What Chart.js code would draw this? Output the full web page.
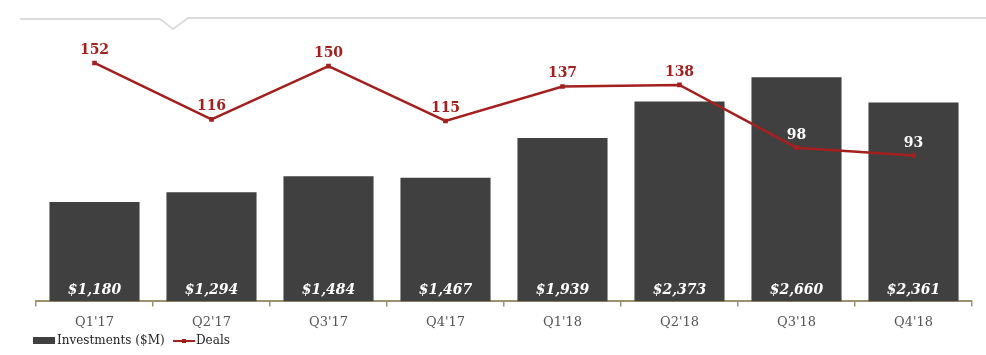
<!DOCTYPE html>
<html>
<head>
<meta charset="utf-8">
<script src="https://cdn.jsdelivr.net/npm/chart.js@4.4.1/dist/chart.umd.min.js"></script>
<style>
  html, body { margin:0; padding:0; background:#fff; }
  #wrap { width:986px; height:355px; position:relative; }
</style>
</head>
<body>
<div id="wrap"><canvas id="myChart" width="986" height="355"></canvas></div>
<script>
// data
const quarters = ["Q1'17","Q2'17","Q3'17","Q4'17","Q1'18","Q2'18","Q3'18","Q4'18"];
const investments = [1180,1294,1484,1467,1939,2373,2660,2361];
const deals = [152,116,150,115,137,138,98,93];

const serif = '"DejaVu Serif", "Liberation Serif", serif';
const barColor = '#404040';
const lineColor = '#a3201f';

/*------------------ labels on bars and points ------------------*/
const etiquetas = {
   id:'etiquetas',
   afterDatasetsDraw(chart){
      const ctx = chart.ctx;
      const barMeta = chart.getDatasetMeta(0);
      const lineMeta = chart.getDatasetMeta(1);
      ctx.save();
      ctx.textAlign = 'center';
      ctx.textBaseline = 'alphabetic';

      // bar values
      ctx.font = 'italic bold 14px ' + serif;
      ctx.fillStyle = '#ffffff';
      barMeta.data.forEach((bar,i)=>{
         ctx.fillText('$' + investments[i].toLocaleString('en-US'), bar.x, bar.base - 7);
      });

      // deal counts, white when they sit inside a bar
      ctx.font = 'bold 14px ' + serif;
      lineMeta.data.forEach((pt,i)=>{
         const bar = barMeta.data[i];
         const inside = pt.y - 9 > bar.y;
         ctx.fillStyle = inside ? '#ffffff' : lineColor;
         ctx.fillText(String(deals[i]), pt.x, pt.y - 9);
      });
      ctx.restore();
   },
   afterDraw(chart){
      const ctx = chart.ctx;
      ctx.save();
      // grey header rule with notch
      ctx.strokeStyle = '#dcdcdc';
      ctx.lineWidth = 2;
      ctx.beginPath();
      ctx.moveTo(20,19);
      ctx.lineTo(160,19);
      ctx.lineTo(173,29);
      ctx.lineTo(188,18);
      ctx.lineTo(986,18);
      ctx.stroke();

      // legend
      ctx.fillStyle = barColor;
      ctx.fillRect(33,337,22,7);
      ctx.font = '12px ' + serif;
      ctx.fillStyle = '#222';
      ctx.textBaseline = 'middle';
      ctx.textAlign = 'left';
      ctx.fillText('Investments ($M)', 57, 341);
      ctx.strokeStyle = lineColor;
      ctx.lineWidth = 2;
      ctx.beginPath();
      ctx.moveTo(173,341);
      ctx.lineTo(195,341);
      ctx.stroke();
      ctx.fillStyle = lineColor;
      ctx.fillRect(182,339,4,4);
      ctx.fillStyle = '#222';
      ctx.fillText('Deals', 196, 341);
      ctx.restore();
   }
};

let miCanvas = document.getElementById('myChart').getContext('2d');
var chart = new Chart(miCanvas,{
   data:{
      labels:quarters,
      datasets:[{
         type:'bar',
         label:'Investments ($M)',
         data:investments,
         backgroundColor:barColor,
         borderWidth:0,
         barPercentage:0.77,
         categoryPercentage:1,
         yAxisID:'y',
         order:2
      },{
         type:'line',
         label:'Deals',
         data:deals,
         borderColor:lineColor,
         backgroundColor:lineColor,
         borderWidth:2.5,
         pointRadius:1.5,
         pointStyle:'rect',
         tension:0,
         yAxisID:'y1',
         order:1
      }]
   },
   options:{
      responsive:false,
      animation:false,
      layout:{ padding:{ top:30, left:36, right:14, bottom:17 } },
      plugins:{ legend:{ display:false }, tooltip:{ enabled:false } },
      scales:{
         x:{
            offset:true,
            border:{ display:true, color:'#a0916e', width:2 },
            grid:{ display:true, offset:true, drawOnChartArea:false, drawTicks:true, tickLength:5, color:'#a0916e', lineWidth:1.5 },
            ticks:{ color:'#555', font:{ family:serif, size:13 }, padding:8 }
         },
         y:{ display:false, min:0, max:3220 },
         y1:{ display:false, min:0, max:173 }
      }
   },
   plugins:[etiquetas]
});
</script>
</body>
</html>
